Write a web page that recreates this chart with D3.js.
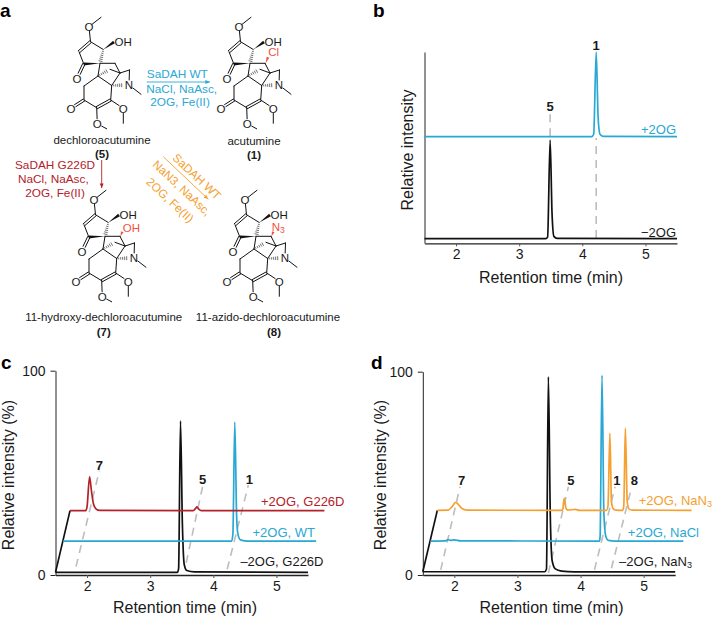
<!DOCTYPE html>
<html>
<head>
<meta charset="utf-8">
<script src="https://cdn.jsdelivr.net/npm/d3@7"></script>
<style>
  html, body { margin: 0; padding: 0; background: #fff; }
  svg { display: block; }
  text { font-family: "Liberation Sans", Arial, sans-serif; fill: #1a1a1a; }
</style>
</head>
<body>
<svg id="fig" width="712" height="617"></svg>
<script>
const BLUE = '#29a8d4', RED = '#b3222a', ORANGE = '#f5a030', HILITE = '#f0523c', DASH = '#bdbdbd';

const xTicks = [2, 3, 4, 5];
const pctTicks = [0, 100];

// traces as [retention time as drawn, intensity]
const bBlack = [[1.5,2.4],[3.42,2.4],[3.45,3.2],[3.49,54],[3.52,16],[3.55,3.6],[3.6,2.6],[5.5,2.4]];
const bBlue = [[1.5,55.8],[4.15,55.8],[4.18,57],[4.22,100],[4.25,66],[4.28,57],[4.33,55.9],[5.5,55.8]];

const cBlack = [[1.5,1.3],[3.43,1.3],[3.45,3],[3.48,75.4],[3.51,25],[3.54,5],[3.58,2.2],[3.7,1.5],[5.5,1.3]];
const cBlue = [[1.62,16.6],[4.29,16.6],[4.31,20],[4.34,74.9],[4.37,28],[4.39,20],[4.43,17.2],[4.55,16.6],[5.63,16.6]];
const cRed = [[1.73,31.5],[1.98,31.5],[2.0,33.5],[2.04,48.1],[2.07,41],[2.1,35],[2.14,32.4],[2.2,31.6],[3.68,31.5],[3.72,32.6],[3.74,33.3],[3.77,32.2],[3.81,31.5],[5.76,31.5]];
const cRamp = [[1.5,1.3],[1.73,31.5]];

const dBlack = [[1.5,1.6],[3.43,1.6],[3.46,3],[3.49,97.5],[3.52,30],[3.55,7],[3.6,3],[3.7,1.9],[3.9,1.5],[5.5,1.5]];
const dBlue = [[1.62,16.7],[1.86,16.8],[1.9,17.4],[1.94,17],[2.0,17.3],[2.1,16.8],[4.3,16.7],[4.31,19],[4.34,98.2],[4.37,30],[4.4,19],[4.44,17],[4.55,16.7],[5.63,16.7]];
const dOrange = [[1.73,31.8],[1.9,31.9],[1.96,33.5],[2.02,35.7],[2.07,34.5],[2.12,32.7],[2.2,31.9],[3.7,31.8],[3.72,32.5],[3.74,37.7],[3.77,32.8],[3.8,31.9],[3.92,32.3],[3.98,31.8],[4.41,31.8],[4.435,34],[4.465,69.7],[4.49,36],[4.52,32.5],[4.56,31.9],[4.67,31.8],[4.685,34],[4.71,72.2],[4.74,36],[4.77,32.4],[4.82,31.9],[5.76,31.8]];
const dRamp = [[1.5,1.6],[1.73,31.8]];

// dashed guides: [t0, i0, t1, i1]
const bGuides = [[3.49,56,3.49,68],[4.22,2.8,4.22,55]];
const cGuides = [[1.825,4.1,2.195,51.1],[3.57,5.9,3.83,43.2],[4.22,2.8,4.555,44]];
const dGuides = [[1.784,2.5,2.09,43.4],[3.49,1,3.807,43.4],[4.22,2.5,4.547,43.4],[4.49,3.3,4.81,43.4]];

// peak numbers: [name, t, i]
const bPeaks = [['5',3.49,69.2],['1',4.22,101.3]];
const cPeaks = [['7',2.195,51.6],['5',3.83,44.3],['1',4.57,44.3]];
const dPeaks = [['7',2.117,44.5],['5',3.845,44.5],['1',4.574,44.5],['8',4.854,44.5]];

const svg = d3.select('#fig');

function panel(opts) {
  const x = d3.scaleLinear().domain([1.5, 5.5]).range(opts.xRange);
  const y = d3.scaleLinear().domain([0, 100]).range(opts.yRange);
  const g = svg.append('g');
  const line = d3.line().x(d => x(d[0])).y(d => y(d[1])).curve(d3.curveMonotoneX);

  const xAxis = g.append('g')
    .attr('transform', `translate(0,${opts.yRange[0]})`)
    .call(d3.axisBottom(x).tickValues(xTicks).tickFormat(d3.format('d')).tickSize(3).tickSizeOuter(0).tickPadding(3));
  xAxis.selectAll('text').style('font-size', '14px').attr('fill', '#1a1a1a');
  xAxis.select('path').attr('stroke', '#222').attr('stroke-width', 1.3);
  xAxis.selectAll('line').attr('stroke', '#555').attr('stroke-width', 1);

  const yAxis = g.append('g')
    .attr('transform', `translate(${opts.xRange[0]},0)`)
    .call(d3.axisLeft(y).tickValues(opts.yTicks).tickFormat(d3.format('d')).tickSize(5).tickSizeOuter(0).tickPadding(5));
  yAxis.selectAll('text').style('font-size', '14px').attr('fill', '#1a1a1a');
  yAxis.selectAll('line,path').attr('stroke', opts.yAxisColor).attr('stroke-width', opts.yAxisWidth);

  g.selectAll('.guide').data(opts.guides).join('line')
    .attr('x1', d => x(d[0])).attr('y1', d => y(d[1]))
    .attr('x2', d => x(d[2])).attr('y2', d => y(d[3]))
    .attr('stroke', DASH).attr('stroke-width', 1.6).attr('stroke-dasharray', '8,6');

  opts.traces.forEach(t => {
    g.append('path').attr('d', line(t.data)).attr('fill', 'none')
      .attr('stroke', t.color).attr('stroke-width', 1.7).attr('stroke-linejoin', 'round');
  });

  g.selectAll('.peak').data(opts.peaks).join('text')
    .attr('x', d => x(d[1])).attr('y', d => y(d[2]))
    .attr('text-anchor', 'middle').style('font-size', '13px').style('font-weight', '700')
    .text(d => d[0]);

  g.append('text').attr('x', opts.xTitle[0]).attr('y', opts.xTitle[1])
    .attr('text-anchor', 'middle').style('font-size', '16px').text('Retention time (min)');
  g.append('text').attr('transform', `translate(${opts.yTitle[0]},${opts.yTitle[1]}) rotate(-90)`)
    .attr('text-anchor', 'middle').style('font-size', '16px').text(opts.yLabel);

  opts.notes.forEach(n => {
    const t = g.append('text').attr('x', n.x).attr('y', n.y).attr('text-anchor', 'end')
      .style('font-size', '13px').style('fill', n.color);
    t.append('tspan').text(n.text);
    if (n.sub) t.append('tspan').attr('dy', 2).style('font-size', '9px').text(n.sub);
  });
}

panel({
  xRange: [424.5, 677], yRange: [243.3, 52], yTicks: [], yAxisColor: '#777', yAxisWidth: 1.6,
  guides: bGuides, peaks: bPeaks, yLabel: 'Relative intensity',
  xTitle: [551, 283], yTitle: [413, 150],
  traces: [{ data: bBlack, color: '#111' }, { data: bBlue, color: BLUE }],
  notes: [
    { text: '+2OG', x: 676, y: 134, color: BLUE },
    { text: '\u22122OG', x: 676, y: 237, color: '#1a1a1a' }
  ]
});

panel({
  xRange: [55.5, 308], yRange: [575, 370.7], yTicks: pctTicks, yAxisColor: '#222', yAxisWidth: 1,
  guides: cGuides, peaks: cPeaks, yLabel: 'Relative intensity (%)',
  xTitle: [185, 613], yTitle: [14, 475],
  traces: [{ data: cRamp, color: '#111' }, { data: cBlack, color: '#111' }, { data: cBlue, color: BLUE }, { data: cRed, color: RED }],
  notes: [
    { text: '+2OG, G226D', x: 344.5, y: 506, color: RED },
    { text: '+2OG, WT', x: 315, y: 537, color: BLUE },
    { text: '\u20132OG, G226D', x: 323.5, y: 566, color: '#1a1a1a' }
  ]
});

panel({
  xRange: [422.8, 675.2], yRange: [575, 371.7], yTicks: pctTicks, yAxisColor: '#222', yAxisWidth: 1,
  guides: dGuides, peaks: dPeaks, yLabel: 'Relative intensity (%)',
  xTitle: [551.5, 613], yTitle: [386, 475],
  traces: [{ data: dRamp, color: '#111' }, { data: dBlack, color: '#111' }, { data: dBlue, color: BLUE }, { data: dOrange, color: ORANGE }],
  notes: [
    { text: '+2OG, NaN', sub: '3', x: 712, y: 505, color: ORANGE },
    { text: '+2OG, NaCl', x: 699, y: 537, color: BLUE },
    { text: '\u20132OG, NaN', sub: '3', x: 692, y: 566, color: '#1a1a1a' }
  ]
});

// panel letters
[['a', 0, 17], ['b', 373, 17], ['c', 1, 369], ['d', 371, 369]].forEach(l => {
  svg.append('text').attr('x', l[1]).attr('y', l[2]).style('font-size', '19px').style('font-weight', '700').style('fill', '#000').text(l[0]);
});

// ---- molecule drawing (panel a) ----
const P = {
  me1: [101, 17.3], o1: [89, 26.7], c1: [90.5, 41.7], c2: [79, 51.7], c3: [83.8, 64], c4: [103.3, 49.5],
  sp: [100, 63.3], c5: [115, 63.3], j: [120, 73], c7: [111.7, 85.5], c8: [98, 76], c9: [84, 86],
  c10: [84, 100], c11: [96.7, 107.7], c12: [110.7, 100], b2: [129.5, 70], n: [129, 85],
  me2: [141, 94.3], o2: [77, 78.3], o3: [71, 108.3], o4: [123.3, 108.3], me4: [123.3, 123.3], o5: [97.3, 123.8],
  me5: [106.7, 128.8], x1: [110, 69.3], oh: [114, 42]
};
const plain = [['o1','me1',4,0],['o1','c1',4,0],['c2','c3',0,0],['c1','c4',0,0],['sp','c5',0,0],['c5','j',0,0],['j','c7',0,0],
  ['c7','c8',0,0],['sp','c8',0,0],['c8','c9',0,0],['c9','c10',0,0],['c10','c11',0,0],['c12','c7',0,0],['j','b2',0,0],
  ['b2','n',0,5],['n','me2',5,0],['c12','o4',0,5],['o4','me4',5,0],['c11','o5',0,5],['o5','me5',5,0],['x1','j',0,0]];
const doubles = [['c1','c2'],['c3','o2',0,5],['c10','o3',0,5],['c11','c12']];
const wedges = [['c4','oh'],['sp','c3']];
const hashes = [['c4','sp'],['c7','n',0,5],['c8','x1']];

function clip(a, b, s, e) {
  const dx = b[0] - a[0], dy = b[1] - a[1], l = Math.hypot(dx, dy);
  return [[a[0] + dx / l * s, a[1] + dy / l * s], [b[0] - dx / l * e, b[1] - dy / l * e]];
}

function molecule(dx, dy) {
  const g = svg.append('g').attr('transform', `translate(${dx},${dy})`);
  const seg = (p, q, w) => g.append('line').attr('x1', p[0]).attr('y1', p[1]).attr('x2', q[0]).attr('y2', q[1])
    .attr('stroke', '#111').attr('stroke-width', w || 1).attr('stroke-linecap', 'round');
  plain.forEach(b => {
    const [p, q] = clip(P[b[0]], P[b[1]], b[2], b[3]);
    seg(p, q);
  });
  doubles.forEach(b => {
    const [p, q] = clip(P[b[0]], P[b[1]], b[2] || 0, b[3] || 0);
    const l = Math.hypot(q[0] - p[0], q[1] - p[1]);
    const nx = -(q[1] - p[1]) / l * 1.2, ny = (q[0] - p[0]) / l * 1.2;
    seg([p[0] + nx, p[1] + ny], [q[0] + nx, q[1] + ny]);
    seg([p[0] - nx, p[1] - ny], [q[0] - nx, q[1] - ny]);
  });
  wedges.forEach(b => {
    const p = P[b[0]], q = P[b[1]];
    const l = Math.hypot(q[0] - p[0], q[1] - p[1]);
    const nx = -(q[1] - p[1]) / l * 1.5, ny = (q[0] - p[0]) / l * 1.5;
    g.append('path').attr('d', `M${p}L${q[0] + nx},${q[1] + ny}L${q[0] - nx},${q[1] - ny}Z`).attr('fill', '#111');
  });
  hashes.forEach(b => {
    const [p, q] = clip(P[b[0]], P[b[1]], 0, b[3] || 0);
    const l = Math.hypot(q[0] - p[0], q[1] - p[1]);
    const ux = (q[0] - p[0]) / l, uy = (q[1] - p[1]) / l;
    d3.range(1, Math.floor(l / 2)).forEach(i => {
      const d = i * 2, h = 0.3 + (d / l) * 1.6;
      seg([p[0] + ux * d - uy * h, p[1] + uy * d + ux * h], [p[0] + ux * d + uy * h, p[1] + uy * d - ux * h], 0.6);
    });
  });
  const atoms = [['O', P.o1], ['O', P.o2], ['O', P.o3], ['O', P.o4], ['O', P.o5], ['N', P.n]];
  atoms.forEach(a => {
    g.append('text').attr('x', a[1][0]).attr('y', a[1][1] + 4.2).attr('text-anchor', 'middle').style('font-size', '11.5px').text(a[0]);
  });
  g.append('text').attr('x', P.oh[0] + 0.5).attr('y', P.oh[1] + 4).style('font-size', '11.5px').text('OH');
  return g;
}

function redWedge(g, label, sub, tx, ty, rise) {
  const p = [P.c5[0] + 0.5, P.c5[1]], q = [P.c5[0] + rise / 2, P.c5[1] - rise];
  g.append('path').attr('d', `M${p}L${q[0] + 1.3},${q[1] + 0.5}L${q[0] - 1.3},${q[1] - 0.5}Z`).attr('fill', HILITE);
  const t = g.append('text').attr('x', P.c5[0] + tx).attr('y', P.c5[1] + ty).style('font-size', '11.5px').style('fill', HILITE);
  t.append('tspan').text(label);
  if (sub) t.append('tspan').attr('dy', 2).style('font-size', '8.5px').text(sub);
}

molecule(0, 0);
redWedge(molecule(150, 0), 'Cl', null, 3.3, -7, 6);
redWedge(molecule(5, 173), 'OH', null, 2.7, -4.8, 4.5);
redWedge(molecule(156, 173), 'N', '3', 0.7, -5.3, 4.5);

function centered(str, x, y, opts = {}) {
  svg.append('text').attr('x', x).attr('y', y).attr('text-anchor', 'middle')
    .style('font-size', opts.size || '11.5px').style('font-weight', opts.bold ? 700 : 400)
    .style('fill', opts.color || '#1a1a1a')
    .attr('transform', opts.rot ? `rotate(${opts.rot},${x},${y})` : null)
    .text(str);
}

const names = [['dechloroacutumine', 102, 143.5], ['acutumine', 254, 145], ['11-hydroxy-dechloroacutumine', 103.7, 321], ['11-azido-dechloroacutumine', 268, 321]];
const refs = [['(5)', 102, 158], ['(1)', 254, 159], ['(7)', 103.7, 336], ['(8)', 274, 336]];
names.forEach(n => centered(n[0], n[1], n[2]));
refs.forEach(n => centered(n[0], n[1], n[2], { bold: true }));

centered('SaDAH WT', 177.3, 77.5, { color: BLUE, size: '11.8px' });
centered('NaCl, NaAsc,', 181.7, 93, { color: BLUE, size: '11.8px' });
centered('2OG, Fe(II)', 180, 106, { color: BLUE, size: '11.8px' });
centered('SaDAH G226D', 55, 169, { color: RED, size: '11.8px' });
centered('NaCl, NaAsc,', 53.3, 183, { color: RED, size: '11.8px' });
centered('2OG, Fe(II)', 55, 197, { color: RED, size: '11.8px' });
centered('SaDAH WT', 194, 179.6, { color: ORANGE, rot: 43, size: '11.8px' });
centered('NaN3, NaAsc,', 179, 191, { color: ORANGE, rot: 43, size: '11.8px' });
centered('2OG, Fe(II)', 167.3, 203, { color: ORANGE, rot: 43, size: '11.8px' });

function arrow(x1, y1, x2, y2, color) {
  svg.append('line').attr('x1', x1).attr('y1', y1).attr('x2', x2).attr('y2', y2).attr('stroke', color).attr('stroke-width', 0.9);
  const a = Math.atan2(y2 - y1, x2 - x1), s = 5;
  const pts = [[x2, y2], [x2 - s * Math.cos(a - 0.4), y2 - s * Math.sin(a - 0.4)], [x2 - s * Math.cos(a + 0.4), y2 - s * Math.sin(a + 0.4)]];
  svg.append('polygon').attr('points', pts.join(' ')).attr('fill', color);
}
arrow(146.7, 82, 210, 82, BLUE);
arrow(101.7, 160, 101.7, 188, RED);
arrow(163.3, 156.7, 208.3, 199.3, ORANGE);
</script>
</body>
</html>
